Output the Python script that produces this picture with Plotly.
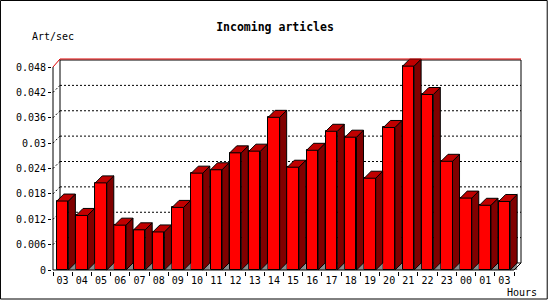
import plotly.graph_objects as go

# ---------------- data ----------------
hours = ["03", "04", "05", "06", "07", "08", "09", "10", "11", "12", "13", "14",
         "15", "16", "17", "18", "19", "20", "21", "22", "23", "00", "01", "03"]
rates = [0.0163, 0.0129, 0.0206, 0.0106, 0.0095, 0.0090, 0.0148, 0.0229,
         0.0237, 0.0277, 0.0281, 0.0361, 0.0243, 0.0283, 0.0328, 0.0314,
         0.0217, 0.0337, 0.0482, 0.0415, 0.0257, 0.0170, 0.0153, 0.0162]
y_ticks = [0, 0.006, 0.012, 0.018, 0.024, 0.030, 0.036, 0.042, 0.048]
y_labels = ["0", "0.006", "0.012", "0.018", "0.024", "0.03", "0.036", "0.042", "0.048"]

# ---------------- geometry / style ----------------
PX_X = 19.2        # px per category slot
PX_Y = 4229.0      # px per unit on y
DEPTH = 7          # 3D depth in px
DX = DEPTH / PX_X
DY = DEPTH / PX_Y
BAR_W = 0.6
YMAX = y_ticks[-1]
n = len(hours)
xs = list(range(n))

L, T = 52, 58
xr = [-0.5 - 1 / PX_X, n - 0.5 + DX + 2 / PX_X]
yr = [-1 / PX_Y, YMAX + DY + 2 / PX_Y]
W = (xr[1] - xr[0]) * PX_X
H = (yr[1] - yr[0]) * PX_Y
R = 550 - L - W
B = 300 - T - H

FRONT = "#ff0000"
TOP = "#c00000"
SIDE = "#800000"
SHADOW = "#8c8c8c"
FONT = "DejaVu Sans Mono"

# faces
top_x, top_y, side_x, side_y, sh_x, sh_y = [], [], [], [], [], []
for i, v in zip(xs, rates):
    x0, x1 = i - BAR_W / 2, i + BAR_W / 2
    top_x += [x0, x0 + DX, x1 + DX, x1, x0, None]
    top_y += [v, v + DY, v + DY, v, v, None]
    side_x += [x1, x1, x1 + DX, x1 + DX, x1, None]
    side_y += [0, v, v + DY, DY, 0, None]
    sh_x += [x1, x1 + DX, x1 + DX, x1, None]
    sh_y += [0, DY, 0, 0, None]

fig = go.Figure()
fig.add_trace(go.Scatter(x=sh_x, y=sh_y, mode="lines", fill="toself",
                         fillcolor=SHADOW, line=dict(width=0, color=SHADOW),
                         hoverinfo="skip", showlegend=False))
fig.add_trace(go.Bar(x=xs, y=rates, width=BAR_W, marker=dict(color=FRONT,
                     line=dict(color="black", width=1)), showlegend=False))
fig.add_trace(go.Scatter(x=side_x, y=side_y, mode="lines", fill="toself",
                         fillcolor=SIDE, line=dict(width=1, color="black"),
                         hoverinfo="skip", showlegend=False))
fig.add_trace(go.Scatter(x=top_x, y=top_y, mode="lines", fill="toself",
                         fillcolor=TOP, line=dict(width=1, color="black"),
                         hoverinfo="skip", showlegend=False))

shapes = []
left_b = -0.5 + DX
right_b = n - 0.5 + DX
# back plane frame
shapes.append(dict(type="rect", x0=left_b, x1=right_b, y0=DY, y1=YMAX + DY,
                   line=dict(color="black", width=1), layer="below"))
# grid lines on the back plane + connectors
for v in y_ticks[1:-1]:
    shapes.append(dict(type="line", x0=left_b, x1=right_b, y0=v + DY, y1=v + DY,
                       line=dict(color="black", width=1, dash="2px,2px"), layer="below"))
    shapes.append(dict(type="line", x0=-0.5, x1=left_b, y0=v, y1=v + DY,
                       line=dict(color="black", width=1, dash="2px,2px"), layer="below"))
# front axes
shapes.append(dict(type="line", x0=-0.5, x1=-0.5, y0=0, y1=YMAX,
                   line=dict(color="black", width=1)))
shapes.append(dict(type="line", x0=-0.5, x1=n - 0.5, y0=0, y1=0,
                   line=dict(color="black", width=1)))
shapes.append(dict(type="line", x0=n - 0.5, x1=right_b, y0=0, y1=DY,
                   line=dict(color="black", width=1)))
# red top edge
shapes.append(dict(type="path",
                   path=f"M {-0.5},{YMAX} L {left_b},{YMAX + DY + 1 / PX_Y} L {right_b},{YMAX + DY + 1 / PX_Y}",
                   line=dict(color="#e00000", width=1)))
# image border
def px(xp):
    return (xp - L) / W
def py(yp):
    return (T + H - yp) / H
shapes.append(dict(type="rect", xref="paper", yref="paper",
                   x0=px(0.5), x1=px(547), y0=py(0.5), y1=py(299),
                   line=dict(color="black", width=1)))

fig.update_layout(
    width=550, height=300,
    margin=dict(l=L, r=R, t=T, b=B, pad=0),
    paper_bgcolor="white", plot_bgcolor="white",
    bargap=0,
    font=dict(family=FONT, size=10, color="black"),
    title=dict(text="<b>Incoming articles</b>", xref="container", yref="container",
               x=0.5, y=1 - 27 / 300, xanchor="center", yanchor="middle",
               font=dict(family=FONT, size=11.5, color="black")),
    xaxis=dict(range=xr, tickmode="array", tickvals=xs, ticktext=hours,
               ticks="", showgrid=False, zeroline=False, showline=False,
               tickfont=dict(family=FONT, size=10), ticklabelstandoff=2,
               minor=dict(tickmode="array", tickvals=[i - 0.5 for i in range(n + 1)],
                          ticks="outside", ticklen=4, tickcolor="black", tickwidth=1,
                          showgrid=False)),
    yaxis=dict(range=yr, tickmode="array", tickvals=y_ticks, ticktext=y_labels,
               ticks="outside", ticklen=3, tickcolor="black", tickwidth=1,
               showgrid=False, zeroline=False, showline=False,
               tickfont=dict(family=FONT, size=10)),
    shapes=shapes,
    annotations=[
        dict(text="Art/sec", xref="paper", yref="paper", x=px(30), y=py(37),
             xanchor="left", yanchor="middle", showarrow=False,
             font=dict(family=FONT, size=10)),
        dict(text="Hours", xref="paper", yref="paper", x=px(505), y=py(292),
             xanchor="left", yanchor="middle", showarrow=False,
             font=dict(family=FONT, size=10)),
    ],
)

fig.write_html("out.html")
